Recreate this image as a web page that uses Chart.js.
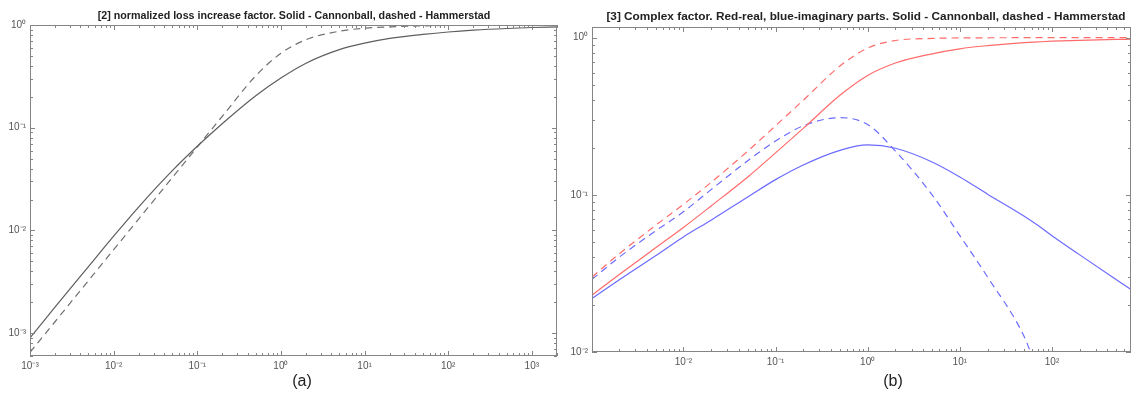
<!DOCTYPE html>
<html>
<head>
<meta charset="utf-8">
<script src="https://cdn.jsdelivr.net/npm/chart.js@4"></script>
<style>
  body { margin: 0; background: #fff; width: 1133px; height: 395px; overflow: hidden; position: relative; font-family: "Liberation Sans", Arial, sans-serif; }
  .box { position: absolute; top: 0; height: 395px; }
  .title { position: absolute; top: 9px; font-weight: bold; color: #222; white-space: nowrap; transform: translateX(-50%); }
  .cap { position: absolute; top: 372px; font-size: 16px; color: #222; transform: translateX(-50%); }
</style>
</head>
<body>
<div class="box" style="left:0;width:566px"><canvas id="lossChart"></canvas></div>
<div class="box" style="left:563px;width:570px"><canvas id="complexChart"></canvas></div>
<div class="title" style="left:294px;font-size:10.7px">[2] normalized loss increase factor. Solid - Cannonball, dashed - Hammerstad</div>
<div class="title" style="left:866px;font-size:11.8px">[3] Complex factor. Red-real, blue-imaginary parts. Solid - Cannonball, dashed - Hammerstad</div>
<div class="cap" style="left:302px">(a)</div>
<div class="cap" style="left:893px">(b)</div>
<script>
// (a) normalized loss increase factor
const xLoss = [0.001, 0.002, 0.005, 0.01, 0.02, 0.05, 0.1, 0.2, 0.5, 1, 2, 5, 10, 20, 50, 100, 200, 500, 1000, 2000];
const lossCannonball = [9.0e-4, 1.8e-3, 4.45e-3, 8.8e-3, 1.7e-2, 3.8e-2, 6.6e-2, 0.11, 0.205, 0.305, 0.425, 0.575, 0.665, 0.74, 0.81, 0.855, 0.89, 0.925, 0.945, 0.96];
const lossHammerstad = [6.5e-4, 1.3e-3, 3.25e-3, 6.5e-3, 1.3e-2, 3.25e-2, 6.5e-2, 0.13, 0.32, 0.53, 0.72, 0.87, 0.93, 0.96, 0.98, 0.99, 0.994, 0.997, 0.998, 0.999];
const xTicksLoss = [1e-3, 1e-2, 1e-1, 1, 10, 100, 1000];
const xLabelsLoss = ['10⁻³', '10⁻²', '10⁻¹', '10⁰', '10¹', '10²', '10³'];
const yTicksLoss = [1e-3, 1e-2, 1e-1, 1];
const yLabelsLoss = ['10⁻³', '10⁻²', '10⁻¹', '10⁰'];

// (b) complex factor
const xComplex = [0.00102, 0.002, 0.005, 0.01, 0.02, 0.05, 0.1, 0.2, 0.5, 1, 2, 5, 10, 20, 50, 70, 100, 200, 500, 720];
const realCannonball = [0.023, 0.031, 0.046, 0.062, 0.085, 0.13, 0.185, 0.265, 0.43, 0.575, 0.69, 0.79, 0.85, 0.89, 0.93, 0.94, 0.95, 0.963, 0.975, 0.978];
const realHammerstad = [0.030, 0.042, 0.064, 0.087, 0.12, 0.19, 0.275, 0.40, 0.66, 0.86, 0.96, 0.99, 0.997, 0.999, 1.0, 1.0, 1.0, 1.0, 1.0, 1.0];
const imagCannonball = [0.0219, 0.0287, 0.041, 0.054, 0.069, 0.097, 0.125, 0.155, 0.192, 0.208, 0.198, 0.162, 0.13, 0.101, 0.073, 0.064, 0.055, 0.0415, 0.0288, 0.025];
const imagHammerstad = [0.029, 0.040, 0.059, 0.078, 0.108, 0.165, 0.22, 0.275, 0.31, 0.28, 0.19, 0.10, 0.055, 0.03, 0.0125, 0.0075, null, null, null, null];
const xTicksComplex = [1e-2, 1e-1, 1, 10, 100];
const xLabelsComplex = ['10⁻²', '10⁻¹', '10⁰', '10¹', '10²'];
const yTicksComplex = [1e-2, 1e-1, 1];
const yLabelsComplex = ['10⁻²', '10⁻¹', '10⁰'];

function pts(xs, ys) {
    return xs.map((x, i) => ({ x: x, y: ys[i] }));
}

// box round the plot area with small inward ticks on all four sides
const boxTicks = {
    id: 'boxTicks',
    afterDraw(chart) {
        const { ctx, chartArea: a, scales } = chart;
        ctx.save();
        ctx.strokeStyle = '#858585';
        ctx.lineWidth = 1;
        ctx.strokeRect(Math.round(a.left) + 0.5, Math.round(a.top) + 0.5, Math.round(a.width) - 1, Math.round(a.height) - 1);
        ctx.beginPath();
        ['x', 'y'].forEach(id => {
            const s = scales[id];
            const lo = Math.floor(Math.log10(s.min)), hi = Math.ceil(Math.log10(s.max));
            for (let d = lo; d <= hi; d++) {
                for (let m = 1; m <= 9; m++) {
                    const v = m * Math.pow(10, d);
                    if (v < s.min * 0.999 || v > s.max * 1.001) continue;
                    const len = m === 1 ? 5 : 3;
                    const p = Math.round(s.getPixelForValue(v)) + 0.5;
                    if (id === 'x') {
                        ctx.moveTo(p, a.bottom); ctx.lineTo(p, a.bottom - len);
                        ctx.moveTo(p, a.top); ctx.lineTo(p, a.top + len);
                    } else {
                        ctx.moveTo(a.left, p); ctx.lineTo(a.left + len, p);
                        ctx.moveTo(a.right, p); ctx.lineTo(a.right - len, p);
                    }
                }
            }
        });
        ctx.stroke();
        ctx.restore();
    }
};

function logAxis(min, max, ticks, labels, size, horizontal) {
    return {
        type: 'logarithmic',
        min: min,
        max: max,
        grid: { display: false, drawTicks: false },
        border: { display: false },
        afterBuildTicks: scale => { scale.ticks = ticks.map(v => ({ value: v })); },
        afterFit: scale => { if (horizontal) scale.height = size; else scale.width = size; },
        ticks: {
            autoSkip: false,
            maxRotation: 0,
            padding: 4,
            color: '#555',
            font: { family: 'Liberation Sans', size: 10 },
            callback: (v, i) => labels[i]
        }
    };
}

function lineSet(data, color, dashed) {
    return {
        data: data,
        borderColor: color,
        borderWidth: 1.2,
        borderDash: dashed ? [7, 5] : [],
        pointRadius: 0,
        cubicInterpolationMode: 'monotone',
        spanGaps: false
    };
}

Chart.defaults.animation = false;

new Chart(document.getElementById('lossChart'), {
    type: 'line',
    data: {
        datasets: [
            lineSet(pts(xLoss, lossCannonball), '#5e5e5e', false),
            lineSet(pts(xLoss, lossHammerstad), '#707070', true)
        ]
    },
    options: {
        responsive: true,
        maintainAspectRatio: false,
        layout: { padding: { top: 25, right: 9, bottom: 0, left: 0 } },
        plugins: { legend: { display: false }, tooltip: { enabled: false } },
        scales: {
            x: logAxis(1e-3, 2000, xTicksLoss, xLabelsLoss, 39, true),
            y: logAxis(6.3e-4, 1, yTicksLoss, yLabelsLoss, 30, false)
        }
    },
    plugins: [boxTicks]
});

new Chart(document.getElementById('complexChart'), {
    type: 'line',
    data: {
        datasets: [
            lineSet(pts(xComplex, realCannonball), '#ff6b6b', false),
            lineSet(pts(xComplex, realHammerstad), '#ff6b6b', true),
            lineSet(pts(xComplex, imagCannonball), '#6b6bff', false),
            lineSet(pts(xComplex, imagHammerstad), '#6b6bff', true)
        ]
    },
    options: {
        responsive: true,
        maintainAspectRatio: false,
        layout: { padding: { top: 27, right: 2, bottom: 0, left: 0 } },
        plugins: { legend: { display: false }, tooltip: { enabled: false } },
        scales: {
            x: logAxis(1.02e-3, 720, xTicksComplex, xLabelsComplex, 43, true),
            y: logAxis(1e-2, 1.17, yTicksComplex, yLabelsComplex, 29, false)
        }
    },
    plugins: [boxTicks]
});
</script>
</body>
</html>
